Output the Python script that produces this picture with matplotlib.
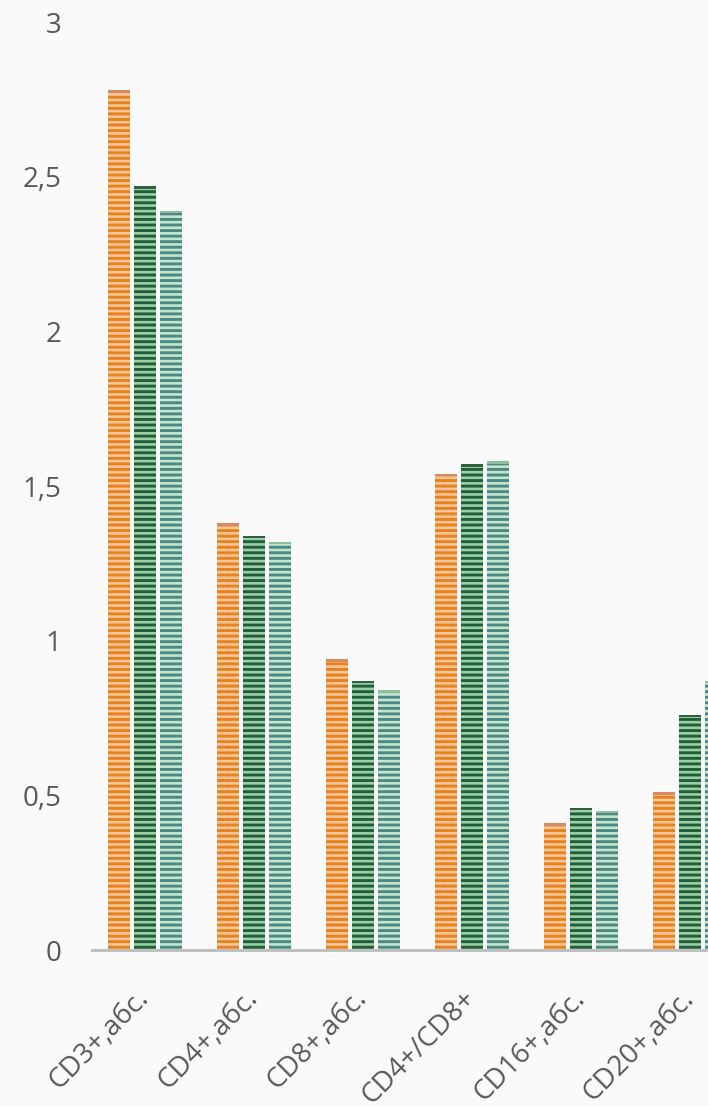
import numpy as np
import matplotlib.pyplot as plt

categories = ['CD3+,абс.', 'CD4+,абс.', 'CD8+,абс.', 'CD4+/CD8+', 'CD16+,абс.', 'CD20+,абс.']
series_a = [2.78, 1.38, 0.94, 1.54, 0.41, 0.51]
series_b = [2.47, 1.34, 0.87, 1.57, 0.46, 0.76]
series_c = [2.39, 1.32, 0.84, 1.58, 0.45, 0.87]
yticks = [0, 0.5, 1, 1.5, 2, 2.5, 3]
ytick_labels = ['0', '0,5', '1', '1,5', '2', '2,5', '3']

plt.rcParams['font.family'] = ['Open Sans', 'DejaVu Sans']
plt.rcParams['hatch.linewidth'] = 2.1

bg = '#fafafa'
fig = plt.figure(figsize=(7.08, 11.06), dpi=100, facecolor=bg)
ax = fig.add_axes([0.13, 0.141, 0.87, 0.839], facecolor=bg)

x = np.arange(len(categories))
w = 0.2
step = 0.24
cap = 0.008
# (stripe colour, background colour, top cap colour)
styles = [('#e8821a', '#f5c59e', '#d98a62'),
          ('#1f5f3a', '#9ccfa6', '#2f5f40'),
          ('#4a8a86', '#c5e6cb', '#8fbf9c')]
for i, (vals, (dark, light, top)) in enumerate(zip([series_a, series_b, series_c], styles)):
    xs = x + (i - 1) * step
    ax.bar(xs, vals, width=w, color=light, edgecolor=dark,
           linewidth=0, hatch='---', zorder=2)
    vals = np.array(vals)
    ax.bar(xs, cap, bottom=vals - cap, width=w, color=top, linewidth=0, zorder=3)

ax.set_xlim(-0.486, 5.165)
ax.set_ylim(0, 3)
ax.set_yticks(yticks)
ax.set_yticklabels(ytick_labels, fontsize=20, color='#595959')
ax.set_xticks(x)
ax.set_xticklabels(categories, fontsize=20, color='#595959', rotation=45,
                   ha='right', va='center', rotation_mode='anchor')
ax.tick_params(axis='y', length=0, pad=22)
ax.tick_params(axis='x', length=0, pad=32)

for side in ['top', 'right', 'left']:
    ax.spines[side].set_visible(False)
ax.spines['bottom'].set_color('#c0c0c0')
ax.spines['bottom'].set_linewidth(2.2)
ax.spines['bottom'].set_zorder(4)

fig.savefig('out.png', dpi=100, facecolor=bg)
